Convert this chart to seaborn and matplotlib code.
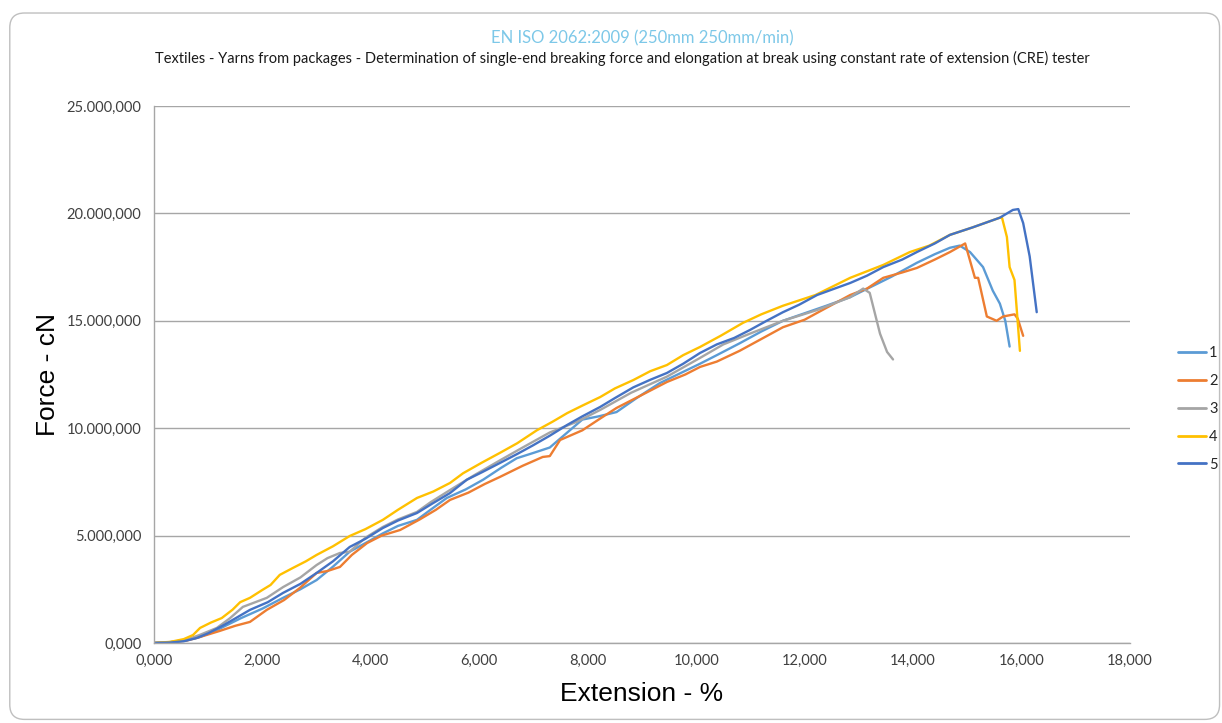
import pandas as pd
import matplotlib
matplotlib.use('Agg')
import matplotlib.pyplot as plt
import seaborn as sns
from matplotlib.patches import FancyBboxPatch
from matplotlib.ticker import FuncFormatter, MultipleLocator

# extension (%) and force (cN)
x1 = [0, 0.3, 0.6, 0.85, 1.2, 1.6, 2.0, 2.38, 2.7, 3.0, 3.3, 3.61, 3.9, 4.22, 4.5, 4.85, 5.1, 5.4,
      5.75, 6.07, 6.4, 6.69, 7.0, 7.3, 7.6, 7.9, 8.2, 8.53, 8.9, 9.33, 9.7, 10.07, 10.38, 10.8, 11.2,
      11.6, 12.0, 12.4, 12.84, 13.2, 13.6, 14.07, 14.4, 14.68, 14.86, 15.05, 15.29, 15.47, 15.6,
      15.7, 15.78]
y1 = [0, 40, 130, 280, 650, 1150, 1600, 2100, 2500, 2930, 3550, 4250, 4650, 5100, 5450, 5730, 6200,
      6750, 7150, 7600, 8150, 8600, 8850, 9100, 9750, 10400, 10550, 10750, 11400, 12100, 12550,
      13000, 13400, 13950, 14500, 15000, 15350, 15700, 16100, 16550, 17050, 17700, 18100, 18400,
      18500, 18200, 17500, 16400, 15800, 15000, 13800]

x2 = [0, 0.3, 0.6, 0.85, 1.2, 1.5, 1.77, 2.08, 2.4, 2.69, 3.0, 3.2, 3.43, 3.65, 3.93, 4.2, 4.54, 4.9,
      5.2, 5.46, 5.8, 6.1, 6.38, 6.8, 7.17, 7.3, 7.49, 7.9, 8.2, 8.53, 9.0, 9.46, 9.8, 10.07, 10.38,
      10.8, 11.2, 11.6, 12.0, 12.4, 12.84, 13.15, 13.45, 13.8, 14.07, 14.4, 14.68, 14.96, 15.14,
      15.2, 15.36, 15.45, 15.54, 15.66, 15.87, 15.93, 16.03]
y2 = [0, 30, 110, 280, 550, 800, 980, 1540, 2000, 2560, 3260, 3350, 3540, 4100, 4650, 5000, 5260,
      5750, 6200, 6660, 7000, 7400, 7730, 8250, 8660, 8700, 9450, 9900, 10400, 10940, 11550, 12150,
      12500, 12850, 13100, 13600, 14150, 14700, 15050, 15600, 16200, 16500, 17000, 17250, 17460,
      17850, 18200, 18600, 17000, 17000, 15200, 15100, 15000, 15200, 15300, 15100, 14300]

x3 = [0, 0.3, 0.6, 0.85, 1.16, 1.4, 1.64, 2.08, 2.38, 2.7, 3.0, 3.2, 3.43, 3.61, 3.9, 4.22, 4.5,
      4.85, 5.1, 5.46, 5.9, 6.38, 6.8, 7.3, 7.8, 8.23, 8.8, 9.46, 10.07, 10.5, 10.99, 11.6, 12.23,
      12.84, 13.08, 13.2, 13.33, 13.39, 13.52, 13.63]
y3 = [0, 40, 150, 380, 700, 1150, 1680, 2100, 2600, 3050, 3630, 3950, 4190, 4250, 4900, 5400, 5750,
      6100, 6550, 7120, 7800, 8500, 9100, 9800, 10300, 10850, 11650, 12400, 13270, 13900, 14400,
      15000, 15500, 16100, 16500, 16300, 15000, 14400, 13550, 13200]

x4 = [0, 0.3, 0.55, 0.72, 0.85, 1.05, 1.25, 1.45, 1.59, 1.77, 2.0, 2.15, 2.32, 2.56, 2.8, 3.0, 3.3,
      3.61, 3.9, 4.22, 4.5, 4.85, 5.15, 5.46, 5.7, 6.05, 6.38, 6.7, 7.06, 7.35, 7.62, 7.9, 8.23,
      8.5, 8.84, 9.15, 9.46, 9.76, 10.07, 10.45, 10.86, 11.2, 11.6, 12.2, 12.84, 13.45, 13.94,
      14.3, 14.68, 15.1, 15.6, 15.64, 15.73, 15.78, 15.87, 15.97]
y4 = [0, 50, 180, 370, 700, 950, 1160, 1550, 1900, 2100, 2470, 2700, 3170, 3490, 3800, 4100, 4500,
      4980, 5300, 5730, 6200, 6750, 7050, 7450, 7900, 8400, 8850, 9300, 9900, 10300, 10700, 11050,
      11450, 11850, 12240, 12650, 12940, 13400, 13780, 14300, 14900, 15300, 15700, 16200, 17000,
      17600, 18200, 18500, 19000, 19350, 19800, 19800, 18900, 17500, 16900, 13600]

x5 = [0, 0.3, 0.55, 0.79, 1.0, 1.3, 1.77, 2.1, 2.38, 2.7, 3.0, 3.3, 3.61, 3.9, 4.22, 4.5, 4.85,
      5.14, 5.46, 5.77, 6.05, 6.38, 6.7, 6.99, 7.3, 7.62, 7.9, 8.23, 8.5, 8.84, 9.15, 9.46, 9.76,
      10.07, 10.38, 10.7, 10.99, 11.3, 11.6, 11.9, 12.23, 12.5, 12.84, 13.15, 13.45, 13.8, 14.07,
      14.4, 14.68, 15.1, 15.6, 15.84, 15.94, 16.03, 16.15, 16.28]
y5 = [0, 20, 80, 230, 450, 850, 1540, 1900, 2330, 2750, 3260, 3800, 4470, 4850, 5350, 5700, 6050,
      6500, 6980, 7600, 7950, 8380, 8800, 9200, 9650, 10150, 10550, 10990, 11400, 11900, 12250,
      12570, 13000, 13500, 13900, 14200, 14570, 15000, 15400, 15750, 16200, 16450, 16760, 17100,
      17500, 17850, 18200, 18600, 19000, 19350, 19800, 20160, 20200, 19550, 18000, 15400]

labels = ['1', '2', '3', '4', '5']
colours = {'1': '#5B9BD5', '2': '#ED7D31', '3': '#A5A5A5', '4': '#FFC000', '5': '#4472C4'}

frames = []
for lab, xs, ys in zip(labels, [x1, x2, x3, x4, x5], [y1, y2, y3, y4, y5]):
    frames.append(pd.DataFrame({'ext': xs, 'force': ys, 'test': lab}))
df = pd.concat(frames, ignore_index=True)

sns.set_theme(style='white')
plt.rcParams['font.family'] = ['Lato', 'DejaVu Sans']

fig = plt.figure(figsize=(12.22, 7.23), dpi=100)
ax = fig.add_axes([0.126, 0.1107, 0.7987, 0.7427])

# rounded chart-area border like the spreadsheet export
fig.patches.append(FancyBboxPatch((0.008, 0.005), 0.99, 0.977, boxstyle='round,pad=0,rounding_size=0.012',
                                  transform=fig.transFigure, fill=False, edgecolor='#BFBFBF', lw=1.0,
                                  mutation_aspect=12.22 / 7.23))

sns.lineplot(data=df, x='ext', y='force', hue='test', palette=colours, estimator=None,
             sort=False, linewidth=1.7, ax=ax)

def comma_fmt(v, pos):
    s = f"{v:,.3f}"
    return s.replace(',', 'X').replace('.', ',').replace('X', '.')

ax.set_xlim(0, 18)
ax.set_ylim(0, 25000)
ax.xaxis.set_major_locator(MultipleLocator(2))
ax.xaxis.set_minor_locator(MultipleLocator(0.4))
ax.yaxis.set_major_locator(MultipleLocator(5000))
ax.yaxis.set_minor_locator(MultipleLocator(1000))
ax.xaxis.set_major_formatter(FuncFormatter(comma_fmt))
ax.yaxis.set_major_formatter(FuncFormatter(comma_fmt))

ax.yaxis.grid(True, color='#A6A6A6', lw=1.0)
ax.set_axisbelow(True)
for sp in ['top', 'right']:
    ax.spines[sp].set_visible(False)
for sp in ['left', 'bottom']:
    ax.spines[sp].set_color('#A6A6A6')
    ax.spines[sp].set_linewidth(1.0)

ax.tick_params(axis='both', which='both', colors='#A6A6A6', labelcolor='#404040', labelsize=10.5)
ax.tick_params(axis='x', which='both', direction='inout', length=8, width=1)
ax.tick_params(axis='y', which='both', direction='out', length=5, width=1)
ax.tick_params(axis='both', which='major', pad=4)

ax.set_xlabel('Extension - %', fontsize=19, family=['Liberation Sans', 'DejaVu Sans'], color='black', labelpad=10)
ax.set_ylabel('Force - cN', fontsize=19, family=['Liberation Sans', 'DejaVu Sans'], color='black', labelpad=5)

leg = ax.legend(loc='center left', bbox_to_anchor=(1.049, 0.436), frameon=False, fontsize=10.5,
                handlelength=1.9, labelspacing=0.95, handletextpad=0.25, borderaxespad=0, borderpad=0)
for line in leg.get_lines():
    line.set_linewidth(2.0)

fig.text(0.526, 0.947, 'EN ISO 2062:2009 (250mm 250mm/min)', ha='center', va='center',
         fontsize=12, color='#7DC8E8')
fig.text(0.509, 0.919, 'Textiles - Yarns from packages - Determination of single-end breaking force and '
         'elongation at break using constant rate of extension (CRE) tester',
         ha='center', va='center', fontsize=10.5, color='#1a1a1a')

fig.savefig('out.png', dpi=100)
